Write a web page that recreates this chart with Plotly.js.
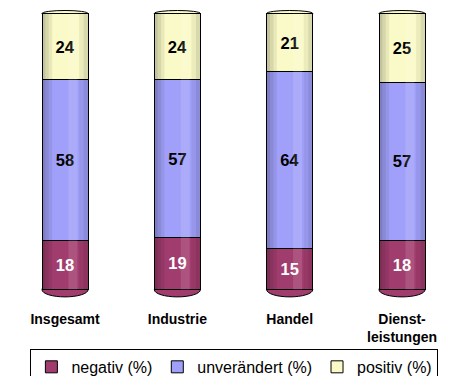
<!DOCTYPE html>
<html>
<head>
<meta charset="utf-8">
<script src="https://cdn.plot.ly/plotly-3.0.1.min.js"></script>
<style>html,body{margin:0;padding:0;background:#fff;}#chart{width:449px;height:376px;}</style>
</head>
<body>
<div id="chart"></div>
<script>
var categories = ["Insgesamt", "Industrie", "Handel", "Dienst-<br>leistungen"];
var negativ = [18, 19, 15, 18];
var unveraendert = [58, 57, 64, 57];
var positiv = [24, 24, 21, 25];
var seriesNames = ["negativ (%)", "unverändert (%)", "positiv (%)"];

var xIdx = categories.map(function(c, i){ return i; });
var barW = 0.41;
var font = "Arial, 'Liberation Sans', sans-serif";

function trace(vals, name, color, textColor){
  return {
    type: "bar", x: xIdx, y: vals, name: name, width: barW,
    marker: {color: color, line: {color: "#000", width: 1}},
    text: vals.map(String), textposition: "inside", insidetextanchor: "middle",
    textfont: {family: font, size: 16.5, color: textColor, weight: "bold"},
    hoverinfo: "skip", cliponaxis: false
  };
}

var data = [
  trace(negativ, seriesNames[0], "#A13C6E", "#ffffff"),
  trace(unveraendert, seriesNames[1], "#A0A0FA", "#000000"),
  trace(positiv, seriesNames[2], "#FAFAC8", "#000000")
];

// cylinder caps and edge shading computed from data totals
var shapes = [];
xIdx.forEach(function(i){
  var total = negativ[i] + unveraendert[i] + positiv[i];
  var L = i - barW/2, R = i + barW/2;
  shapes.push({type: "circle", xref: "x", yref: "y", layer: "below",
    x0: L, x1: R, y0: -2.6, y1: 2.6,
    fillcolor: "#A13C6E", line: {color: "#000", width: 1}});
  shapes.push({type: "circle", xref: "x", yref: "y", layer: "below",
    x0: L, x1: R, y0: total - 1.1, y1: total + 1.1,
    fillcolor: "#FAFAC8", line: {color: "#000", width: 1}});
  var strips = [[0, 0.03, 0.22], [0.03, 0.06, 0.14], [0.06, 0.09, 0.07],
                [barW - 0.08, barW - 0.04, 0.06], [barW - 0.04, barW, 0.13]];
  strips.forEach(function(s){
    shapes.push({type: "rect", xref: "x", yref: "y", layer: "above",
      x0: L + s[0], x1: L + s[1], y0: 0, y1: total,
      fillcolor: "#000", opacity: s[2], line: {width: 0}});
  });
  shapes.push({type: "rect", xref: "x", yref: "y", layer: "above",
    x0: i + 0.03, x1: i + 0.11, y0: 0, y1: total,
    fillcolor: "#fff", opacity: 0.12, line: {width: 0}});
});

var layout = {
  width: 449, height: 376,
  margin: {l: 0, r: 0, t: 7.5, b: 77.7, autoexpand: false},
  barmode: "stack",
  paper_bgcolor: "#fff", plot_bgcolor: "#fff",
  showlegend: true,
  legend: {orientation: "h", xref: "container", yref: "container",
    x: 0.522, xanchor: "center", y: 0.072, yanchor: "top",
    bordercolor: "#000", borderwidth: 1, bgcolor: "#fff",
    font: {family: font, size: 16, color: "#000"},
    traceorder: "normal", itemwidth: 30},
  xaxis: {range: [-0.579, 3.418], tickmode: "array", tickvals: xIdx, ticktext: categories,
    showgrid: false, zeroline: false, showline: false, ticks: "",
    tickfont: {family: font, size: 14, color: "#000", weight: "bold"},
    ticklabelstandoff: 11, fixedrange: true},
  yaxis: {range: [-3, 102], visible: false, fixedrange: true},
  shapes: shapes,
  font: {family: font}
};

Plotly.newPlot("chart", data, layout, {displayModeBar: false, staticPlot: true});
</script>
</body>
</html>
